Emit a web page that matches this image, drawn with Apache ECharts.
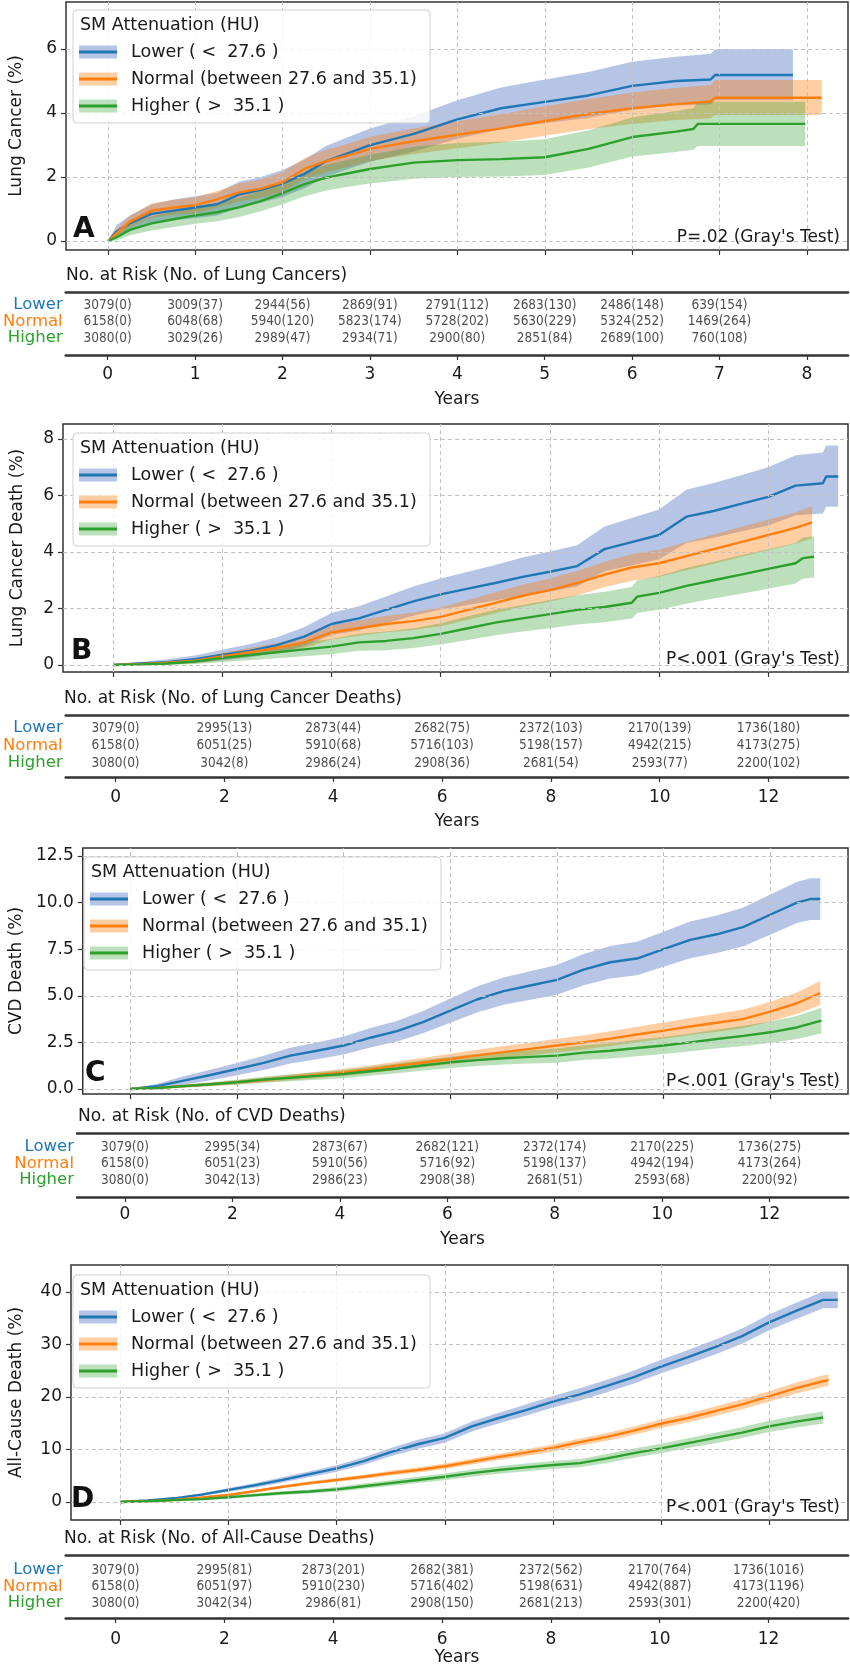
<!DOCTYPE html>
<html><head><meta charset="utf-8">
<script src="https://cdn.jsdelivr.net/npm/echarts@6.0.0/dist/echarts.min.js"></script>
<style>html,body{margin:0;padding:0;background:#fff}#c{width:850px;height:1669px}</style>
</head><body><div id="c"></div>
<script>
// ---------------- DATA ----------------
const GROUPS = ['Lower', 'Normal', 'Higher'];
const GROUP_LABELS = ['Lower ( <  27.6 )', 'Normal (between 27.6 and 35.1)', 'Higher ( >  35.1 )'];
const LEGEND_TITLE = 'SM Attenuation (HU)';

// Panel A: Lung Cancer — rows are [years, estimate %, CI low %, CI high %]
const A_lower = [[0,0,0,0],[0.1,0.3,0.12,0.5],[0.25,0.55,0.3,0.8],[0.5,0.85,0.55,1.15],[0.75,0.95,0.65,1.3],[1,1.05,0.72,1.4],[1.25,1.15,0.8,1.5],[1.5,1.45,1.05,1.85],[1.75,1.6,1.2,2.0],[2,1.8,1.38,2.22],[2.25,2.1,1.65,2.55],[2.5,2.5,2.02,2.98],[2.75,2.75,2.25,3.25],[3,3.0,2.48,3.52],[3.5,3.35,2.8,3.9],[4,3.8,3.2,4.4],[4.5,4.15,3.5,4.8],[5,4.35,3.68,5.05],[5.5,4.55,3.85,5.28],[6,4.85,4.1,5.6],[6.5,5.0,4.24,5.76],[6.9,5.05,4.27,5.85],[6.95,5.19,4.4,5.99],[7.84,5.19,4.4,5.99]];
const A_normal = [[0,0,0,0],[0.1,0.25,0.12,0.38],[0.25,0.6,0.42,0.78],[0.5,0.95,0.73,1.17],[0.75,1.05,0.82,1.28],[1,1.12,0.87,1.37],[1.25,1.3,1.04,1.56],[1.5,1.52,1.24,1.8],[1.75,1.64,1.35,1.93],[2,1.84,1.53,2.15],[2.25,2.26,1.93,2.59],[2.5,2.5,2.15,2.85],[2.75,2.68,2.32,3.04],[3,2.88,2.5,3.26],[3.5,3.12,2.72,3.52],[4,3.32,2.9,3.74],[4.5,3.52,3.08,3.96],[5,3.75,3.29,4.21],[5.5,3.97,3.5,4.44],[6,4.15,3.66,4.64],[6.5,4.28,3.78,4.78],[6.9,4.36,3.84,4.88],[6.95,4.48,3.94,5.03],[8.17,4.48,3.94,5.03]];
const A_higher = [[0,0,0,0],[0.1,0.12,0.02,0.22],[0.25,0.35,0.18,0.52],[0.5,0.55,0.33,0.77],[0.75,0.68,0.44,0.92],[1,0.8,0.54,1.06],[1.25,0.9,0.62,1.18],[1.5,1.05,0.75,1.35],[1.75,1.25,0.93,1.57],[2,1.5,1.15,1.85],[2.25,1.78,1.4,2.16],[2.5,1.98,1.58,2.38],[2.75,2.12,1.7,2.54],[3,2.25,1.8,2.7],[3.5,2.45,1.95,2.95],[4,2.53,2.0,3.06],[4.5,2.56,2.02,3.1],[5,2.62,2.06,3.18],[5.5,2.88,2.3,3.46],[6,3.25,2.64,3.86],[6.5,3.42,2.78,4.06],[6.7,3.5,2.85,4.15],[6.75,3.66,2.97,4.35],[7.98,3.66,2.97,4.35]];

// Panel B: Lung Cancer Death
const B_lower = [[0,0,0,0],[0.5,0.05,0,0.1],[1,0.1,0.02,0.2],[1.5,0.2,0.07,0.33],[2,0.35,0.16,0.54],[2.5,0.5,0.27,0.73],[3,0.7,0.42,0.98],[3.5,1.0,0.67,1.33],[4,1.45,1.06,1.84],[4.5,1.65,1.22,2.08],[5,1.95,1.48,2.42],[5.5,2.25,1.74,2.78],[6,2.5,1.96,3.06],[6.5,2.7,2.12,3.3],[7,2.9,2.28,3.54],[7.5,3.12,2.46,3.8],[8,3.3,2.6,4.02],[8.5,3.5,2.78,4.24],[9,4.1,3.32,4.9],[9.5,4.35,3.53,5.2],[10,4.6,3.74,5.5],[10.5,5.25,4.32,6.2],[11,5.45,4.5,6.44],[11.5,5.7,4.72,6.72],[12,5.95,4.94,7.0],[12.5,6.35,5.3,7.42],[13.0,6.43,5.36,7.52],[13.06,6.67,5.6,7.77],[13.28,6.67,5.6,7.77]];
const B_normal = [[0,0,0,0],[0.5,0.03,0,0.06],[1,0.08,0.02,0.14],[1.5,0.15,0.06,0.24],[2,0.3,0.18,0.42],[2.5,0.45,0.3,0.6],[3,0.6,0.43,0.77],[3.5,0.8,0.6,1.0],[4,1.15,0.9,1.4],[4.5,1.3,1.03,1.57],[5,1.45,1.16,1.74],[5.5,1.55,1.24,1.86],[6,1.7,1.37,2.03],[6.5,1.95,1.6,2.3],[7,2.2,1.83,2.57],[7.5,2.45,2.06,2.84],[8,2.65,2.24,3.06],[8.5,2.9,2.47,3.33],[9,3.2,2.75,3.65],[9.5,3.45,2.98,3.92],[10,3.6,3.12,4.08],[10.5,3.85,3.35,4.35],[11,4.1,3.58,4.62],[11.5,4.35,3.82,4.88],[12,4.6,4.06,5.14],[12.5,4.85,4.3,5.4],[12.8,5.05,4.48,5.62]];
const B_higher = [[0,0,0,0],[0.5,0.02,0,0.05],[1,0.05,0,0.12],[1.5,0.12,0.03,0.21],[2,0.25,0.1,0.4],[2.5,0.35,0.17,0.53],[3,0.45,0.24,0.66],[3.5,0.55,0.31,0.79],[4,0.65,0.38,0.92],[4.5,0.8,0.5,1.1],[5,0.85,0.52,1.18],[5.5,0.95,0.6,1.3],[6,1.1,0.72,1.48],[6.5,1.3,0.88,1.72],[7,1.5,1.05,1.95],[7.5,1.65,1.18,2.12],[8,1.8,1.3,2.3],[8.5,1.95,1.43,2.47],[9,2.05,1.51,2.59],[9.5,2.2,1.64,2.76],[9.6,2.42,1.84,3.0],[10,2.55,1.95,3.15],[10.5,2.8,2.17,3.43],[11,3.0,2.35,3.65],[11.5,3.2,2.52,3.88],[12,3.4,2.7,4.1],[12.5,3.6,2.88,4.32],[12.63,3.78,3.05,4.51],[12.84,3.83,3.1,4.56]];

// Panel C: CVD Death
const C_lower = [[0,0,0,0],[0.5,0.15,0.02,0.28],[1,0.45,0.22,0.68],[1.5,0.75,0.47,1.03],[2,1.07,0.74,1.4],[2.5,1.4,1.02,1.78],[3,1.79,1.37,2.21],[3.5,2.05,1.6,2.5],[4,2.33,1.85,2.81],[4.5,2.75,2.23,3.27],[5,3.1,2.55,3.65],[5.5,3.6,3.0,4.2],[6,4.2,3.55,4.85],[6.5,4.8,4.1,5.5],[7,5.25,4.52,5.98],[7.5,5.55,4.79,6.31],[8,5.85,5.05,6.65],[8.5,6.4,5.56,7.24],[9,6.8,5.93,7.67],[9.5,7.0,6.1,7.9],[10,7.5,6.56,8.44],[10.5,8.0,7.02,8.98],[11,8.3,7.29,9.31],[11.5,8.7,7.66,9.74],[12,9.35,8.27,10.43],[12.5,10.0,8.9,11.1],[12.75,10.19,9.07,11.31],[12.94,10.19,9.07,11.31]];
const C_normal = [[0,0,0,0],[0.5,0.05,0.01,0.09],[1,0.15,0.08,0.22],[1.5,0.25,0.16,0.34],[2,0.36,0.25,0.47],[2.5,0.48,0.35,0.61],[3,0.62,0.47,0.77],[3.5,0.75,0.58,0.92],[4,0.89,0.7,1.08],[4.5,1.05,0.84,1.26],[5,1.25,1.02,1.48],[5.5,1.42,1.17,1.67],[6,1.61,1.33,1.89],[6.5,1.8,1.5,2.1],[7,1.98,1.66,2.3],[7.5,2.15,1.81,2.49],[8,2.33,1.97,2.69],[8.5,2.5,2.12,2.88],[9,2.7,2.3,3.1],[9.5,2.92,2.5,3.34],[10,3.13,2.69,3.57],[10.5,3.35,2.89,3.81],[11,3.55,3.07,4.03],[11.5,3.76,3.26,4.26],[12,4.15,3.62,4.68],[12.5,4.6,4.02,5.18],[12.94,5.15,4.5,5.8]];
const C_higher = [[0,0,0,0],[0.5,0.05,0,0.1],[1,0.15,0.06,0.24],[1.5,0.25,0.14,0.36],[2,0.36,0.23,0.49],[2.5,0.5,0.34,0.66],[3,0.6,0.42,0.78],[3.5,0.7,0.5,0.9],[4,0.8,0.58,1.02],[4.5,0.95,0.71,1.19],[5,1.1,0.84,1.36],[5.5,1.27,0.99,1.55],[6,1.43,1.13,1.73],[6.5,1.55,1.23,1.87],[7,1.65,1.31,1.99],[7.5,1.72,1.36,2.08],[8,1.79,1.41,2.17],[8.5,1.95,1.55,2.35],[9,2.05,1.63,2.47],[9.5,2.2,1.76,2.64],[10,2.33,1.87,2.79],[10.5,2.5,2.02,2.98],[11,2.68,2.17,3.19],[11.5,2.85,2.31,3.39],[12,3.04,2.46,3.62],[12.5,3.3,2.68,3.92],[12.96,3.67,2.98,4.36]];

// Panel D: All-Cause Death
const D_lower = [[0,0,0,0],[0.5,0.3,0.18,0.42],[1,0.7,0.5,0.9],[1.5,1.4,1.12,1.68],[2,2.3,1.95,2.65],[2.5,3.2,2.78,3.62],[3,4.2,3.7,4.7],[3.5,5.3,4.74,5.86],[4,6.4,5.78,7.02],[4.5,7.8,7.1,8.5],[5,9.5,8.7,10.3],[5.5,11.0,10.15,11.85],[6,12.2,11.3,13.1],[6.5,14.4,13.45,15.35],[7,16.0,15.0,17.0],[7.5,17.5,16.45,18.55],[8,19.1,18.0,20.2],[8.5,20.5,19.35,21.65],[9,22.1,20.9,23.3],[9.5,23.8,22.55,25.05],[10,25.8,24.5,27.1],[10.5,27.6,26.25,28.95],[11,29.5,28.1,30.9],[11.5,31.6,30.15,33.05],[12,34.2,32.7,35.7],[12.5,36.4,34.85,37.95],[13,38.5,36.9,40.1],[13.27,38.5,36.9,40.1]];
const D_normal = [[0,0,0,0],[0.5,0.15,0.1,0.2],[1,0.4,0.3,0.5],[1.5,0.85,0.7,1.0],[2,1.33,1.13,1.53],[2.5,2.1,1.85,2.35],[3,2.9,2.6,3.2],[3.5,3.6,3.27,3.93],[4,4.2,3.84,4.56],[4.5,4.8,4.4,5.2],[5,5.5,5.05,5.95],[5.5,6.1,5.62,6.58],[6,6.8,6.29,7.31],[6.5,7.7,7.15,8.25],[7,8.6,8.0,9.2],[7.5,9.4,8.77,10.03],[8,10.3,9.63,10.97],[8.5,11.4,10.7,12.1],[9,12.4,11.65,13.15],[9.5,13.6,12.81,14.39],[10,14.9,14.07,15.73],[10.5,16.0,15.13,16.87],[11,17.3,16.4,18.2],[11.5,18.6,17.65,19.55],[12,20.1,19.1,21.1],[12.5,21.7,20.65,22.75],[13,23.0,21.9,24.1],[13.1,23.2,22.1,24.3]];
const D_higher = [[0,0,0,0],[0.5,0.15,0.07,0.23],[1,0.35,0.2,0.5],[1.5,0.55,0.35,0.75],[2,0.9,0.65,1.15],[2.5,1.3,1.0,1.6],[3,1.7,1.35,2.05],[3.5,2.0,1.6,2.4],[4,2.4,1.95,2.85],[4.5,3.0,2.5,3.5],[5,3.6,3.05,4.15],[5.5,4.2,3.6,4.8],[6,4.8,4.16,5.44],[6.5,5.5,4.83,6.17],[7,6.1,5.4,6.8],[7.5,6.6,5.86,7.34],[8,7.05,6.28,7.82],[8.5,7.4,6.6,8.2],[9,8.3,7.45,9.15],[9.5,9.3,8.42,10.18],[10,10.2,9.3,11.1],[10.5,11.2,10.27,12.13],[11,12.2,11.2,13.2],[11.5,13.2,12.17,14.23],[12,14.4,13.32,15.48],[12.5,15.3,14.18,16.42],[13.0,16.1,14.95,17.25]];

// Tick values
const A_xTicks = [0,1,2,3,4,5,6,7,8];
const A_yTicks = [0,2,4,6];
const B_xTicks = [0,2,4,6,8,10,12];
const B_yTicks = [0,2,4,6,8];
const C_xTicks = [0,2,4,6,8,10,12];
const C_yTicks = [0,2.5,5,7.5,10,12.5];
const D_xTicks = [0,2,4,6,8,10,12];
const D_yTicks = [0,10,20,30,40];

// Number at risk (number of events)
const A_riskYears = [0,1,2,3,4,5,6,7];
const A_nLower = [3079,3009,2944,2869,2791,2683,2486,639];
const A_eLower = [0,37,56,91,112,130,148,154];
const A_nNormal = [6158,6048,5940,5823,5728,5630,5324,1469];
const A_eNormal = [0,68,120,174,202,229,252,264];
const A_nHigher = [3080,3029,2989,2934,2900,2851,2689,760];
const A_eHigher = [0,26,47,71,80,84,100,108];

const B_riskYears = [0,2,4,6,8,10,12];
const B_nLower = [3079,2995,2873,2682,2372,2170,1736];
const B_eLower = [0,13,44,75,103,139,180];
const B_nNormal = [6158,6051,5910,5716,5198,4942,4173];
const B_eNormal = [0,25,68,103,157,215,275];
const B_nHigher = [3080,3042,2986,2908,2681,2593,2200];
const B_eHigher = [0,8,24,36,54,77,102];

const C_riskYears = [0,2,4,6,8,10,12];
const C_nLower = [3079,2995,2873,2682,2372,2170,1736];
const C_eLower = [0,34,67,121,174,225,275];
const C_nNormal = [6158,6051,5910,5716,5198,4942,4173];
const C_eNormal = [0,23,56,92,137,194,264];
const C_nHigher = [3080,3042,2986,2908,2681,2593,2200];
const C_eHigher = [0,13,23,38,51,68,92];

const D_riskYears = [0,2,4,6,8,10,12];
const D_nLower = [3079,2995,2873,2682,2372,2170,1736];
const D_eLower = [0,81,201,381,562,764,1016];
const D_nNormal = [6158,6051,5910,5716,5198,4942,4173];
const D_eNormal = [0,97,230,402,631,887,1196];
const D_nHigher = [3080,3042,2986,2908,2681,2593,2200];
const D_eHigher = [0,34,81,150,213,301,420];

// ---------------- STYLE / LAYOUT ----------------
const FONT = '"DejaVu Sans", "Liberation Sans", sans-serif';
const NUMFONT = '"DejaVu Sans Condensed", "Liberation Sans Narrow", "DejaVu Sans", sans-serif';
const TXT = '#1a1a1a';
const COLORS = ['#1f77b4', '#ff7f0e', '#2ca02c'];
const BANDS = ['rgba(62,100,190,0.38)', 'rgba(255,127,14,0.38)', 'rgba(44,160,44,0.32)'];

const panels = [
  { letter:'A', yName:'Lung Cancer (%)', pText:"P=.02 (Gray's Test)", riskTitle:'No. at Risk (No. of Lung Cancers)',
    curves:[A_lower, A_normal, A_higher], xTicks:A_xTicks, yTicks:A_yTicks, yDec:0,
    riskYears:A_riskYears, risk:[[A_nLower,A_eLower],[A_nNormal,A_eNormal],[A_nHigher,A_eHigher]],
    L:{left:65, right:848, top:2, bottom:250, xMin:-0.48, xMax:8.47, yMin:-0.28, yMax:7.47, nameGap:41, legX:73, legY:10,
       lineTop:292, row1:305, row3:338, lineBot:355, tickLab:375, years:400} },
  { letter:'B', yName:'Lung Cancer Death (%)', pText:"P<.001 (Gray's Test)", riskTitle:'No. at Risk (No. of Lung Cancer Deaths)',
    curves:[B_lower, B_normal, B_higher], xTicks:B_xTicks, yTicks:B_yTicks, yDec:0,
    riskYears:B_riskYears, risk:[[B_nLower,B_eLower],[B_nNormal,B_eNormal],[B_nHigher,B_eHigher]],
    L:{left:63, right:848, top:424, bottom:672, xMin:-0.916, xMax:13.46, yMin:-0.25, yMax:8.53, nameGap:37, legX:73, legY:433,
       lineTop:715, row1:728, row3:763, lineBot:777, tickLab:798, years:822} },
  { letter:'C', yName:'CVD Death (%)', pText:"P<.001 (Gray's Test)", riskTitle:'No. at Risk (No. of CVD Deaths)',
    curves:[C_lower, C_normal, C_higher], xTicks:C_xTicks, yTicks:C_yTicks, yDec:1,
    riskYears:C_riskYears, risk:[[C_nLower,C_eLower],[C_nNormal,C_eNormal],[C_nHigher,C_eHigher]],
    L:{left:77, right:848, top:848, bottom:1094, xMin:-0.894, xMax:13.46, yMin:-0.27, yMax:12.93, nameGap:57, legX:84, legY:857,
       lineTop:1133, row1:1147, row3:1180, lineBot:1197, tickLab:1215, years:1240} },
  { letter:'D', yName:'All-Cause Death (%)', pText:"P<.001 (Gray's Test)", riskTitle:'No. at Risk (No. of All-Cause Deaths)',
    curves:[D_lower, D_normal, D_higher], xTicks:D_xTicks, yTicks:D_yTicks, yDec:0,
    riskYears:D_riskYears, risk:[[D_nLower,D_eLower],[D_nNormal,D_eNormal],[D_nHigher,D_eHigher]],
    L:{left:63, right:848, top:1265, bottom:1520, xMin:-0.916, xMax:13.46, yMin:-3.43, yMax:45.14, nameGap:46, legX:73, legY:1275,
       lineTop:1555, row1:1570, row3:1603, lineBot:1618, tickLab:1640, years:1658} }
];

const grid = [], xAxis = [], yAxis = [], series = [], graphic = [];

function txt(x, y, text, opts) {
  const o = Object.assign({ size:17, weight:'normal', align:'left', va:'middle', color:TXT }, opts || {});
  return { type:'text', x, y, z:60, silent:true,
    style:{ text, fill:o.color, font:`${o.weight} ${o.size}px ${FONT}`,
      textAlign:o.align, textVerticalAlign:o.va, align:o.align, verticalAlign:o.va } };
}

panels.forEach((p, pi) => {
  const L = p.L;
  const gP = grid.length;
  grid.push({ left:L.left, top:L.top, width:L.right - L.left, height:L.bottom - L.top,
    show:true, borderColor:'#333', borderWidth:1.5, backgroundColor:'transparent' });
  const s = (L.row3 - L.row1) / 2;
  const tTop = L.row1 - s / 2, tH = 3 * s;
  const gT = grid.length;
  grid.push({ left:L.left, top:tTop, width:L.right - L.left, height:tH, show:false });

  const xP = xAxis.length;
  xAxis.push({ gridIndex:gP, type:'value', min:L.xMin, max:L.xMax, splitLine:{show:false},
    axisLine:{show:false, onZero:false},
    axisTick:{show:true, customValues:p.xTicks, length:5, lineStyle:{color:'#333', width:1.2}},
    axisLabel:{show:false} });
  const xTB = xAxis.length;
  xAxis.push({ gridIndex:gT, type:'value', position:'bottom', offset:L.lineBot - (tTop + tH),
    min:L.xMin, max:L.xMax, splitLine:{show:false},
    axisLine:{show:true, onZero:false, lineStyle:{color:'#333', width:2.5}},
    axisTick:{show:true, customValues:p.xTicks, length:5, lineStyle:{color:'#333', width:1.2}},
    axisLabel:{customValues:p.xTicks, fontSize:17, color:TXT, fontFamily:FONT, margin:(L.tickLab - L.lineBot) - 9},
    name:'Years', nameLocation:'middle', nameGap:(L.years - L.lineBot) - 9,
    nameTextStyle:{fontSize:17, color:TXT, fontFamily:FONT} });
  xAxis.push({ gridIndex:gT, type:'value', position:'top', offset:tTop - L.lineTop,
    min:L.xMin, max:L.xMax, splitLine:{show:false},
    axisLine:{show:true, onZero:false, lineStyle:{color:'#333', width:2.5}},
    axisTick:{show:false}, axisLabel:{show:false} });

  const yP = yAxis.length;
  yAxis.push({ gridIndex:gP, type:'value', min:L.yMin, max:L.yMax, splitLine:{show:false},
    axisLine:{show:false, onZero:false},
    axisTick:{show:true, customValues:p.yTicks, length:5, lineStyle:{color:'#333', width:1.2}},
    axisLabel:{customValues:p.yTicks, formatter:(v) => Number(v).toFixed(p.yDec), fontSize:17, color:TXT, fontFamily:FONT, margin:9},
    name:p.yName, nameLocation:'middle', nameRotate:90, nameGap:L.nameGap,
    nameTextStyle:{fontSize:17, color:TXT, fontFamily:FONT} });
  const yT = yAxis.length;
  yAxis.push({ gridIndex:gT, type:'category', data:GROUPS, inverse:true,
    axisLine:{show:false}, axisTick:{show:false}, splitLine:{show:false},
    axisLabel:{interval:0, fontSize:16.5, fontFamily:FONT, margin:3, color:(v) => COLORS[GROUPS.indexOf(v)]} });

  // dashed grid lines through the axis scales
  series.push({ type:'line', xAxisIndex:xP, yAxisIndex:yP, data:[[p.xTicks[0], p.yTicks[0]]], symbol:'none',
    lineStyle:{opacity:0}, silent:true, z:1, animation:false,
    markLine:{ silent:true, symbol:['none','none'], label:{show:false}, animation:false,
      lineStyle:{color:'#c2c2c2', width:1, type:[4,3]}, emphasis:{disabled:true},
      data:[...p.yTicks.map(v => ({yAxis:v})), ...p.xTicks.map(v => ({xAxis:v}))] } });

  // confidence bands (polygon through api.coord)
  p.curves.forEach((c, gi) => {
    series.push({ type:'custom', xAxisIndex:xP, yAxisIndex:yP, data:c, clip:true, silent:true, z:2, animation:false,
      encode:{x:0, y:[2,3]},
      renderItem:(params, api) => {
        if (params.dataIndex !== 0) return null;
        const up = c.map(r => api.coord([r[0], r[3]]));
        const lo = c.slice().reverse().map(r => api.coord([r[0], r[2]]));
        return { type:'polygon', shape:{points: up.concat(lo)}, style:{fill:BANDS[gi], stroke:null} };
      } });
  });
  // estimate lines
  p.curves.forEach((c, gi) => {
    series.push({ type:'line', name:GROUPS[gi], xAxisIndex:xP, yAxisIndex:yP, data:c.map(r => [r[0], r[1]]),
      symbol:'none', lineStyle:{color:COLORS[gi], width:2.4}, z:3, silent:true, animation:false, clip:true });
  });
  // risk table
  p.risk.forEach((rk, gi) => {
    series.push({ type:'scatter', xAxisIndex:xTB, yAxisIndex:yT, data:p.riskYears.map(t => [t, gi]),
      symbol:'circle', symbolSize:1, itemStyle:{color:'rgba(0,0,0,0)'}, silent:true, animation:false, z:5,
      labelLayout:{hideOverlap:false},
      label:{show:true, position:'inside', fontSize:13.5, color:'#222', fontFamily:NUMFONT,
        formatter:(q) => `${rk[0][q.dataIndex]}(${rk[1][q.dataIndex]})`} });
  });

  // legend
  const lx = L.legX, ly = L.legY;
  graphic.push({ type:'rect', z:50, silent:true, shape:{x:lx, y:ly, width:357, height:113, r:4},
    style:{fill:'rgba(255,255,255,0.85)', stroke:'#cfcfcf', lineWidth:1} });
  graphic.push(txt(lx + 7, ly + 15, LEGEND_TITLE, {size:17.5}));
  GROUP_LABELS.forEach((lab, gi) => {
    const ry = ly + 42 + gi * 27;
    graphic.push({ type:'rect', z:55, silent:true, shape:{x:lx + 6, y:ry - 6.5, width:38, height:13}, style:{fill:BANDS[gi]} });
    graphic.push({ type:'rect', z:56, silent:true, shape:{x:lx + 6, y:ry - 1.5, width:38, height:3}, style:{fill:COLORS[gi]} });
    graphic.push(txt(lx + 58, ry, lab, {size:17.5}));
  });
  // letter, p-value, risk title
  graphic.push(txt(L.left + 8, L.bottom - 6, p.letter, {size:28, weight:'bold', va:'bottom', color:'#111'}));
  graphic.push(txt(L.right - 8, L.bottom - 12, p.pText, {align:'right'}));
  graphic.push(txt(L.left + 1, L.lineTop - 16, p.riskTitle));
});

const chart = echarts.init(document.getElementById('c'), null, {renderer:'canvas', width:850, height:1669});
chart.setOption({ animation:false, backgroundColor:'#fff', grid, xAxis, yAxis, series, graphic });
</script></body></html>
